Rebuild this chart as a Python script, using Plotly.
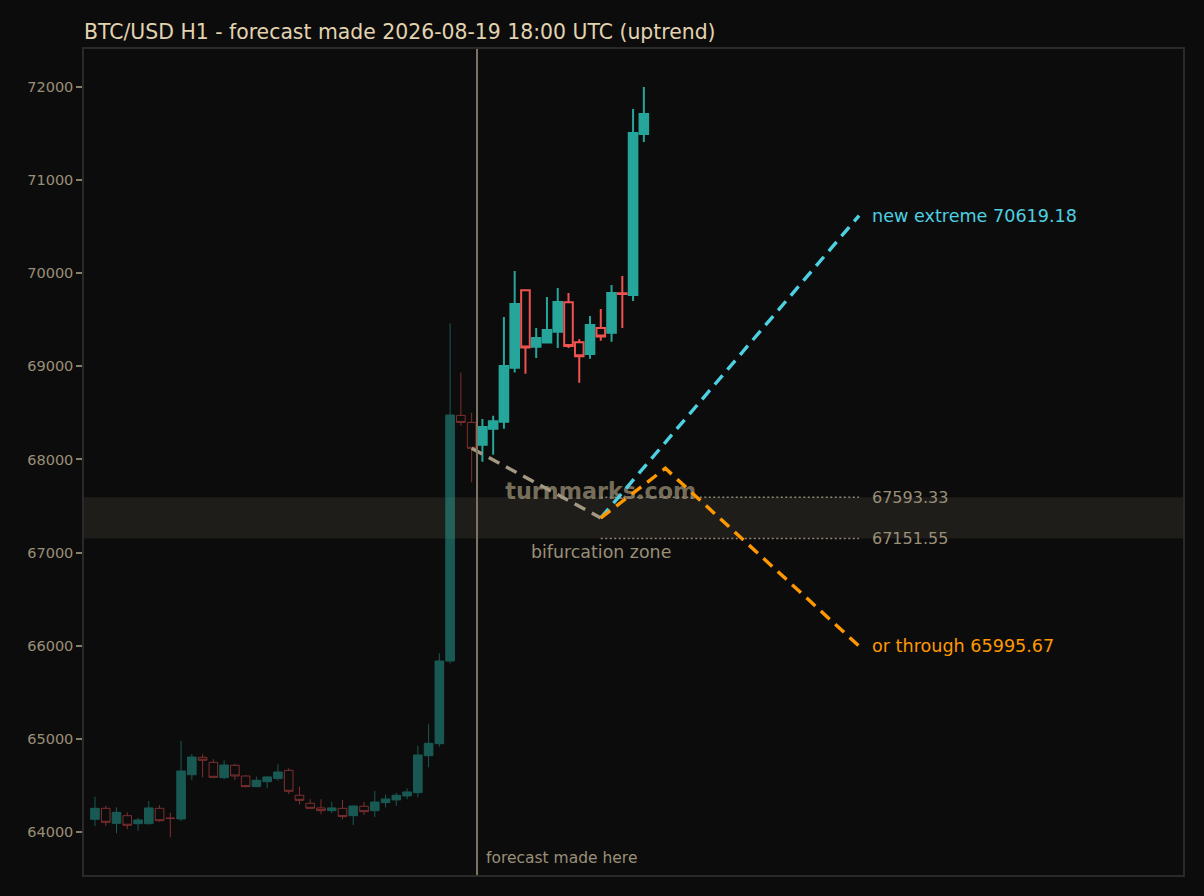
import plotly.graph_objects as go

# ---- data ----
opens = [64136, 64254, 64093, 64175, 64089, 64089, 64254, 64150, 64140, 64615,
         64802, 64748, 64583, 64716, 64601, 64487, 64540, 64573, 64662, 64394,
         64308, 64258, 64229, 64254, 64175, 64276, 64229, 64315, 64344, 64387,
         64422, 64819, 64948, 65836, 68474, 68398, 68159, 68331, 68406, 68986,
         69817, 69210, 69255, 69373, 69688, 69259, 69132, 69412, 69362, 69785,
         69767, 71496]
highs = [64379, 64282, 64265, 64211, 64150, 64333, 64287, 64207, 64980, 64838,
         64834, 64781, 64770, 64733, 64612, 64594, 64601, 64727, 64684, 64487,
         64351, 64351, 64325, 64344, 64285, 64325, 64443, 64401, 64420, 64469,
         64927, 65157, 65919, 69462, 68934, 68502, 68435, 68470, 69530, 70024,
         69820, 69412, 69745, 69842, 69788, 69291, 69541, 69616, 69874, 69970,
         71764, 72000]
lows = [64064, 64064, 63986, 64029, 64014, 64080, 64110, 63943, 64118, 64555,
        64587, 64580, 64566, 64558, 64480, 64485, 64469, 64551, 64408, 64297,
        64250, 64190, 64200, 64136, 64072, 64183, 64158, 64265, 64279, 64351,
        64372, 64695, 64916, 65810, 68363, 67755, 67977, 68052, 68331, 68934,
        68922, 69090, 69250, 69197, 69197, 68825, 69083, 69276, 69265, 69412,
        69702, 71410]
closes = [64254, 64104, 64211, 64072, 64129, 64258, 64121, 64145, 64655, 64805,
          64770, 64587, 64719, 64601, 64487, 64555, 64591, 64644, 64437, 64340,
          64254, 64229, 64258, 64165, 64279, 64218, 64322, 64354, 64394, 64430,
          64827, 64952, 65836, 68478, 68398, 68120, 68349, 68410, 69004, 69670,
          69203, 69305, 69391, 69691, 69218, 69109, 69445, 69322, 69788, 69778,
          71506, 71710]
bar_index = list(range(len(opens)))
forecast_bar = 35           # last bar known when the forecast was made

zone_low = 67151.55
zone_high = 67593.33
zone_mid = (zone_low + zone_high) / 2
target_up = 70619.18
target_down = 65995.67
pivot_bar = 47
peak_bar = 53
peak_price = 67905
end_bar = 71

ytick_vals = [64000, 65000, 66000, 67000, 68000, 69000, 70000, 71000, 72000]
ytick_text = [str(v) for v in ytick_vals]

title_text = "BTC/USD H1 - forecast made 2026-08-19 18:00 UTC (uptrend)"

# ---- styles ----
BG = "#0c0c0c"
TEAL = "#26a69a"
RED = "#ef5350"
CYAN = "#4dd0e1"
ORANGE = "#ff9800"
MUTED = "#9a8f77"
FONT = "DejaVu Sans"
DASH = "12px,7.5px"
LW = 3.4

fig = go.Figure()

h = slice(0, forecast_bar + 1)
f = slice(forecast_bar + 1, None)

fig.add_trace(go.Candlestick(
    x=bar_index[h], open=opens[h], high=highs[h], low=lows[h], close=closes[h],
    increasing=dict(line=dict(color=TEAL, width=1), fillcolor=TEAL),
    decreasing=dict(line=dict(color=RED, width=1), fillcolor="rgba(0,0,0,0)"),
    opacity=0.5, whiskerwidth=0, showlegend=False, hoverinfo="skip"))

fig.add_trace(go.Candlestick(
    x=bar_index[f], open=opens[f], high=highs[f], low=lows[f], close=closes[f],
    increasing=dict(line=dict(color=TEAL, width=2), fillcolor=TEAL),
    decreasing=dict(line=dict(color=RED, width=2), fillcolor="rgba(0,0,0,0)"),
    whiskerwidth=0, showlegend=False, hoverinfo="skip"))

# watermark (drawn under forecast lines)
fig.add_trace(go.Scatter(
    x=[pivot_bar], y=[67640], mode="text", text=["turnmarks.com"],
    textfont=dict(family=FONT, size=22.3, color="rgba(200,185,150,0.58)", weight="bold"),
    showlegend=False, hoverinfo="skip"))

# zone level dotted lines
for lvl in (zone_high, zone_low):
    fig.add_trace(go.Scatter(
        x=[pivot_bar, end_bar], y=[lvl, lvl], mode="lines",
        line=dict(color="#8f8573", width=1.5, dash="2px,2.5px"),
        showlegend=False, hoverinfo="skip"))

# forecast path to pivot
fig.add_trace(go.Scatter(
    x=[forecast_bar, pivot_bar], y=[closes[forecast_bar], zone_mid], mode="lines",
    line=dict(color="#a39982", width=LW, dash=DASH),
    showlegend=False, hoverinfo="skip"))
# up scenario
fig.add_trace(go.Scatter(
    x=[pivot_bar, end_bar], y=[zone_mid, target_up], mode="lines",
    line=dict(color=CYAN, width=LW, dash=DASH),
    showlegend=False, hoverinfo="skip"))
# down scenario
fig.add_trace(go.Scatter(
    x=[pivot_bar, peak_bar, end_bar], y=[zone_mid, peak_price, target_down], mode="lines",
    line=dict(color=ORANGE, width=LW, dash=DASH),
    showlegend=False, hoverinfo="skip"))

# bifurcation band
fig.add_shape(type="rect", xref="paper", yref="y", x0=0, x1=1,
              y0=zone_low, y1=zone_high, fillcolor="#1f1d19", line_width=0, layer="below")
# forecast vertical line
fig.add_shape(type="line", xref="x", yref="paper", x0=forecast_bar + 0.5, x1=forecast_bar + 0.5,
              y0=0, y1=1, line=dict(color="#7f7462", width=2))

ann = [
    dict(x=end_bar, y=target_up, text=f"new extreme {target_up:.2f}", color=CYAN, size=17.6),
    dict(x=end_bar, y=zone_high, text=f"{zone_high:.2f}", color=MUTED, size=16),
    dict(x=end_bar, y=zone_low, text=f"{zone_low:.2f}", color=MUTED, size=16),
    dict(x=end_bar, y=target_down, text=f"or through {target_down:.2f}", color=ORANGE, size=17.6),
]
for a in ann:
    fig.add_annotation(x=a["x"], y=a["y"], xref="x", yref="y", text=a["text"],
                       showarrow=False, xanchor="left", yanchor="middle", xshift=11,
                       font=dict(family=FONT, size=a["size"], color=a["color"]))

fig.add_annotation(x=pivot_bar, y=67007, xref="x", yref="y", text="bifurcation zone",
                   showarrow=False, xanchor="center", yanchor="middle",
                   font=dict(family=FONT, size=17.4, color=MUTED))
fig.add_annotation(x=forecast_bar + 0.5, y=63721, xref="x", yref="y", text="forecast made here",
                   showarrow=False, xanchor="left", yanchor="middle", xshift=7,
                   font=dict(family=FONT, size=15.5, color=MUTED))

fig.update_layout(
    width=1204, height=896,
    paper_bgcolor=BG, plot_bgcolor=BG,
    margin=dict(l=84, r=21, t=49, b=21),
    font=dict(family=FONT, color=MUTED),
    title=dict(text=title_text, x=84 / 1204, xanchor="left", xref="container",
               y=1 - 32 / 896, yanchor="middle", yref="container",
               font=dict(family=FONT, size=20.4, color="#e2d3b0")),
    boxgap=0.2, boxgroupgap=0,
    showlegend=False,
)
fig.update_xaxes(range=[-1.02, 101.1], showticklabels=False, ticks="", showgrid=False,
                 zeroline=False, showline=True, mirror=True, linecolor="#2a2a2a", linewidth=1.5,
                 rangeslider=dict(visible=False))
fig.update_yaxes(range=[63538, 72408], tickvals=ytick_vals, ticktext=ytick_text,
                 ticks="outside", ticklen=6, tickcolor="#8a7e68", tickwidth=1.5,
                 tickfont=dict(family=FONT, size=14.5, color=MUTED),
                 showgrid=False, zeroline=False, showline=True, mirror=True,
                 linecolor="#2a2a2a", linewidth=1.5)

fig.write_html(
    "out.html",
    config={"displayModeBar": False},
    post_script="document.body.style.margin='0';document.body.style.background='#0c0c0c';"
                "document.body.style.overflow='hidden';",
)
